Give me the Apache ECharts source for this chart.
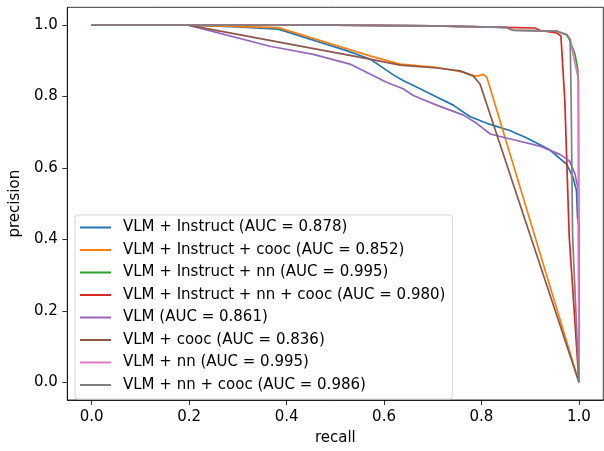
<!DOCTYPE html>
<html>
<head>
<meta charset="utf-8">
<script src="https://cdn.jsdelivr.net/npm/echarts@6/dist/echarts.min.js"></script>
<style>
  html, body { margin: 0; padding: 0; background: #fff; }
  #chart { width: 604px; height: 451px; }
</style>
</head>
<body>
<div id="chart"></div>
<script>
// Precision-recall curves for the eight model variants.
const recallTicks = [0, 0.2, 0.4, 0.6, 0.8, 1.0];
const precisionTicks = [0, 0.2, 0.4, 0.6, 0.8, 1.0];

const seriesNames = [
  'VLM + Instruct (AUC = 0.878)',
  'VLM + Instruct + cooc (AUC = 0.852)',
  'VLM + Instruct + nn (AUC = 0.995)',
  'VLM + Instruct + nn + cooc (AUC = 0.980)',
  'VLM (AUC = 0.861)',
  'VLM + cooc (AUC = 0.836)',
  'VLM + nn (AUC = 0.995)',
  'VLM + nn + cooc (AUC = 0.986)'
];
const seriesColors = ['#1f77b4', '#ff7f0e', '#2ca02c', '#d62728', '#9467bd', '#8c564b', '#e377c2', '#7f7f7f'];

// VLM + Instruct
const instructRecall    = [0, 0.2, 0.3, 0.383, 0.45, 0.52, 0.571, 0.592, 0.62, 0.639, 0.674, 0.708, 0.742, 0.776, 0.811, 0.858, 0.893, 0.94, 0.975, 0.988, 0.995, 0.997, 1.0, 1.0];
const instructPrecision = [1.0, 1.0, 0.995, 0.989, 0.96, 0.93, 0.905, 0.886, 0.86, 0.845, 0.822, 0.799, 0.776, 0.744, 0.725, 0.705, 0.684, 0.651, 0.61, 0.573, 0.536, 0.463, 0.44, 0.0];

// VLM + Instruct + cooc
const instructCoocRecall    = [0, 0.2, 0.383, 0.571, 0.633, 0.708, 0.763, 0.783, 0.793, 0.804, 0.811, 1.0];
const instructCoocPrecision = [1.0, 1.0, 0.993, 0.914, 0.891, 0.882, 0.868, 0.858, 0.858, 0.862, 0.854, 0.0];

// VLM + Instruct + nn
const instructNnRecall    = [0, 0.5, 0.7, 0.85, 0.865, 0.955, 0.975, 0.982, 0.992, 0.997, 0.999, 1.0];
const instructNnPrecision = [1.0, 1.0, 0.998, 0.994, 0.986, 0.983, 0.973, 0.955, 0.918, 0.88, 0.845, 0.0];

// VLM + Instruct + nn + cooc
const instructNnCoocRecall    = [0, 0.5, 0.7, 0.85, 0.91, 0.92, 0.954, 0.963, 0.971, 0.98, 1.0];
const instructNnCoocPrecision = [1.0, 1.0, 0.998, 0.994, 0.992, 0.985, 0.978, 0.97, 0.79, 0.41, 0.0];

// VLM
const vlmRecall    = [0, 0.198, 0.366, 0.455, 0.53, 0.571, 0.605, 0.639, 0.66, 0.708, 0.763, 0.79, 0.818, 0.851, 0.92, 0.961, 0.981, 0.992, 0.999, 1.0];
const vlmPrecision = [1.0, 1.0, 0.941, 0.918, 0.891, 0.863, 0.84, 0.822, 0.803, 0.776, 0.748, 0.725, 0.695, 0.684, 0.661, 0.638, 0.619, 0.582, 0.536, 0.0];

// VLM + cooc
const coocRecall    = [0, 0.198, 0.571, 0.633, 0.708, 0.756, 0.783, 0.797, 1.0];
const coocPrecision = [1.0, 1.0, 0.905, 0.888, 0.88, 0.872, 0.858, 0.835, 0.0];

// VLM + nn
const nnRecall    = [0, 0.5, 0.7, 0.85, 0.865, 0.955, 0.975, 0.982, 0.988, 0.998, 0.999, 1.0];
const nnPrecision = [1.0, 1.0, 0.998, 0.994, 0.986, 0.983, 0.973, 0.96, 0.918, 0.854, 0.7, 0.0];

// VLM + nn + cooc
const nnCoocRecall    = [0, 0.5, 0.7, 0.85, 0.865, 0.955, 0.975, 0.982, 0.984, 0.987, 1.0];
const nnCoocPrecision = [1.0, 1.0, 0.998, 0.994, 0.985, 0.983, 0.973, 0.96, 0.79, 0.41, 0.0];

const curves = [
  [instructRecall, instructPrecision],
  [instructCoocRecall, instructCoocPrecision],
  [instructNnRecall, instructNnPrecision],
  [instructNnCoocRecall, instructNnCoocPrecision],
  [vlmRecall, vlmPrecision],
  [coocRecall, coocPrecision],
  [nnRecall, nnPrecision],
  [nnCoocRecall, nnCoocPrecision]
];

const FONT = 'DejaVu Sans';
const FONT_SIZE = 15;

const series = curves.map(([rec, prec], i) => ({
  name: seriesNames[i],
  type: 'line',
  data: rec.map((r, k) => [r, prec[k]]),
  symbol: 'none',
  showSymbol: false,
  lineStyle: { color: seriesColors[i], width: 1.7 },
  itemStyle: { color: seriesColors[i] },
  emphasis: { disabled: true },
  silent: true,
  clip: true
}));

const axisCommon = {
  type: 'value',
  min: -0.05,
  max: 1.05,
  splitLine: { show: false },
  axisLine: { show: true, onZero: false, lineStyle: { color: '#000', width: 0.8 } },
  nameLocation: 'middle',
  nameTextStyle: { fontFamily: FONT, fontSize: FONT_SIZE, color: '#000' }
};

const chart = echarts.init(document.getElementById('chart'), null, { renderer: 'canvas' });
chart.setOption({
  animation: false,
  backgroundColor: '#fff',
  grid: {
    left: 67.3, top: 7.3, right: 0.7, bottom: 45.3,
    show: true, borderColor: '#000', borderWidth: 0.8, backgroundColor: '#fff'
  },
  xAxis: Object.assign({}, axisCommon, {
    name: 'recall',
    nameGap: 31,
    axisTick: { show: true, customValues: recallTicks, length: 5, lineStyle: { color: '#000', width: 0.8 } },
    axisLabel: {
      customValues: recallTicks, margin: 9.5,
      formatter: v => v.toFixed(1),
      fontFamily: FONT, fontSize: FONT_SIZE, color: '#000'
    }
  }),
  yAxis: Object.assign({}, axisCommon, {
    name: 'precision',
    nameGap: 37,
    nameRotate: 90,
    axisTick: { show: true, customValues: precisionTicks, length: 5, lineStyle: { color: '#000', width: 0.8 } },
    axisLabel: {
      customValues: precisionTicks, margin: 9.5,
      formatter: v => v.toFixed(1),
      fontFamily: FONT, fontSize: FONT_SIZE, color: '#000'
    }
  }),
  legend: {
    data: seriesNames,
    orient: 'vertical',
    left: 75, top: 215,
    icon: 'rect',
    itemWidth: 31, itemHeight: 2,
    itemGap: 5.5,
    padding: [4, 7, 5.5, 5],
    selectedMode: false,
    backgroundColor: 'rgba(255,255,255,0.8)',
    borderColor: '#d5d5d5', borderWidth: 1, borderRadius: 3,
    textStyle: { fontFamily: FONT, fontSize: FONT_SIZE, color: '#000', lineHeight: 17, padding: [0, 0, 0, 7] }
  },
  series: series
});
</script>
</body>
</html>
